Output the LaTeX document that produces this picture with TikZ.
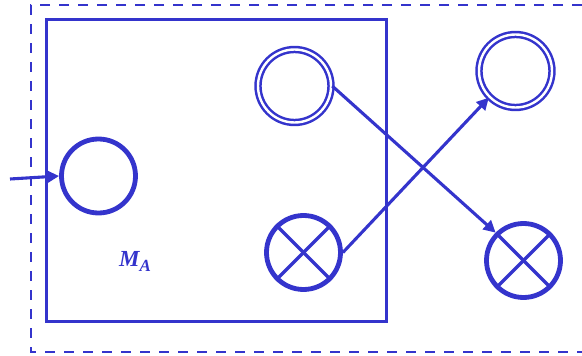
\documentclass[tikz,border=0pt]{standalone}
\usepackage{fontspec}
\newfontfamily\labelfont{Liberation Serif}
\usetikzlibrary{arrows.meta}
\definecolor{dblue}{RGB}{52,52,204}
\begin{document}
\begin{tikzpicture}[x=1pt,y=-1pt,
  outerbox/.style={draw=dblue,line width=2.8pt,dash pattern=on 10pt off 9pt},
  innerbox/.style={draw=dblue,line width=3pt},
  place/.style={circle,draw=dblue,line width=4.8pt,minimum size=74pt,inner sep=0pt},
  dplace/.style={circle,draw=dblue,line width=2.5pt,double=white,double distance=2.4pt,minimum size=73pt,inner sep=0pt},
  xplace/.style={circle,draw=dblue,line width=4.8pt,minimum size=74pt,inner sep=0pt},
  crossline/.style={draw=dblue,line width=3.2pt},
  conn/.style={draw=dblue,line width=3.1pt,-{Triangle[length=12pt,width=12pt]}}
]
\useasboundingbox (0,0) rectangle (582,356);
\path[outerbox] (582,5) -- (31,5) -- (31,352) -- (582,352);
\path[innerbox] (46,19) rectangle (386,321);
\node[place] (p0) at (98.5,176) {};
\node[dplace] (m1) at (294.5,86) {};
\node[dplace] (m2) at (515.5,71) {};
\node[xplace] (x1) at (303.5,252.5) {};
\node[xplace] (x2) at (523.5,260.5) {};
\foreach \n in {x1,x2}{
  \path[crossline] (\n.north west) -- (\n.south east);
  \path[crossline] (\n.north east) -- (\n.south west);
}
\coordinate (in) at (10,179);
\path[conn] (in) -- (p0.west);
\path[conn] (m1.east) -- (x2.north west);
\path[conn] (x1.east) -- (m2.south west);
\node[text=dblue,anchor=base west,inner sep=0pt,font=\labelfont\bfseries\itshape\fontsize{23}{23}\selectfont] (lbl) at (119,266)
  {M\raisebox{-5pt}{\fontsize{17}{17}\selectfont A}};
\end{tikzpicture}
\end{document}
